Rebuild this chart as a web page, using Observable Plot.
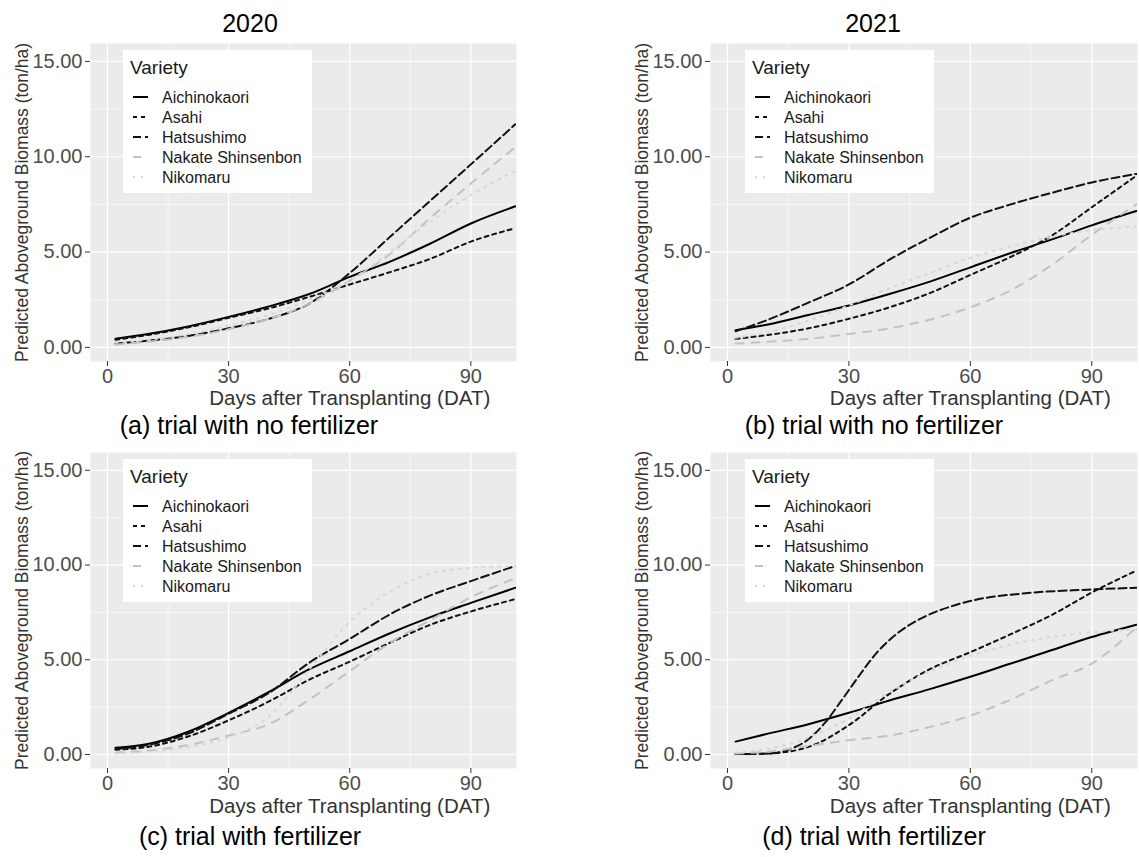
<!DOCTYPE html>
<html>
<head>
<meta charset="utf-8">
<script src="https://cdn.jsdelivr.net/npm/d3@7"></script>
<script src="https://cdn.jsdelivr.net/npm/@observablehq/plot@0.6"></script>
<style>
  html, body { margin: 0; padding: 0; background: #fff; overflow: hidden; }
  #root { position: relative; width: 1139px; height: 857px; font-family: "Liberation Sans", Arial, sans-serif; }
  #root > svg { position: absolute; }
</style>
</head>
<body>
<div id="root"></div>
<script>
// ---------------- DATA ----------------
const varieties = ["Aichinokaori", "Asahi", "Hatsushimo", "Nakate Shinsenbon", "Nikomaru"];
const days = [2, 10, 20, 30, 40, 50, 60, 70, 80, 90, 101];
const xTicks = [0, 30, 60, 90];
const yTicks = [0, 5, 10, 15];

// (a) 2020, no fertilizer
const a_Aichinokaori = [0.45, 0.7, 1.1, 1.6, 2.15, 2.8, 3.7, 4.5, 5.45, 6.5, 7.4];
const a_Asahi        = [0.4, 0.65, 1.05, 1.55, 2.05, 2.65, 3.3, 3.95, 4.65, 5.55, 6.25];
const a_Hatsushimo   = [0.2, 0.35, 0.6, 1.0, 1.5, 2.3, 3.9, 5.8, 7.7, 9.6, 11.7];
const a_Nakate       = [0.15, 0.3, 0.55, 0.95, 1.5, 2.3, 3.5, 4.9, 6.8, 8.6, 10.5];
const a_Nikomaru     = [0.25, 0.4, 0.7, 1.15, 1.7, 2.5, 3.5, 5.0, 6.6, 8.0, 9.25];

// (b) 2021, no fertilizer
const b_Aichinokaori = [0.9, 1.2, 1.7, 2.2, 2.8, 3.45, 4.2, 4.95, 5.65, 6.4, 7.15];
const b_Asahi        = [0.45, 0.65, 1.0, 1.5, 2.1, 2.85, 3.8, 4.75, 5.85, 7.35, 9.0];
const b_Hatsushimo   = [0.85, 1.45, 2.35, 3.3, 4.6, 5.75, 6.8, 7.5, 8.1, 8.65, 9.1];
const b_Nakate       = [0.2, 0.3, 0.45, 0.7, 1.0, 1.45, 2.1, 3.0, 4.3, 5.9, 7.5];
const b_Nikomaru     = [0.5, 0.8, 1.4, 2.2, 3.1, 3.9, 4.7, 5.3, 5.8, 6.15, 6.35];

// (c) 2020, with fertilizer
const c_Aichinokaori = [0.35, 0.55, 1.2, 2.2, 3.3, 4.5, 5.45, 6.4, 7.25, 8.0, 8.8];
const c_Asahi        = [0.25, 0.4, 0.95, 1.8, 2.8, 3.95, 4.9, 5.9, 6.85, 7.55, 8.2];
const c_Hatsushimo   = [0.3, 0.5, 1.1, 2.15, 3.25, 4.85, 6.1, 7.4, 8.4, 9.15, 9.95];
const c_Nakate       = [0.1, 0.2, 0.5, 1.0, 1.6, 2.9, 4.4, 5.9, 7.1, 8.3, 9.3];
const c_Nikomaru     = [0.05, 0.15, 0.4, 0.9, 2.0, 4.5, 7.0, 8.6, 9.55, 9.85, 9.95];

// (d) 2021, with fertilizer
const d_Aichinokaori = [0.68, 1.1, 1.6, 2.2, 2.85, 3.45, 4.1, 4.8, 5.5, 6.2, 6.85];
const d_Asahi        = [0.02, 0.05, 0.4, 1.55, 3.2, 4.5, 5.4, 6.35, 7.35, 8.55, 9.7];
const dH_days        = [2, 10, 15, 20, 24, 28, 32, 37, 42, 48, 55, 61, 73, 89, 101];
const d_Hatsushimo   = [0.02, 0.05, 0.25, 0.8, 1.65, 2.8, 4.0, 5.4, 6.4, 7.2, 7.8, 8.15, 8.5, 8.7, 8.8];
const d_Nakate       = [0.05, 0.15, 0.45, 0.75, 1.0, 1.45, 2.05, 2.9, 3.9, 4.8, 6.7];
const d_Nikomaru     = [0.1, 0.3, 0.9, 1.9, 3.3, 4.4, 5.2, 5.8, 6.2, 6.45, 6.6];

const yearTitles = ["2020", "2021"];
const captions = ["(a) trial with no fertilizer", "(b) trial with no fertilizer", "(c) trial with fertilizer", "(d) trial with fertilizer"];
const xTitle = "Days after Transplanting (DAT)";
const yTitle = "Predicted Aboveground Biomass (ton/ha)";
const legendTitle = "Variety";

// ---------------- STYLES ----------------
const lineStyle = {
  "Aichinokaori":      {stroke: "#000000", dash: null},
  "Asahi":             {stroke: "#111111", dash: "4,4"},
  "Hatsushimo":        {stroke: "#111111", dash: "8,4"},
  "Nakate Shinsenbon": {stroke: "#c2c2c2", dash: "8,8"},
  "Nikomaru":          {stroke: "#d8d8d8", dash: "2,6"}
};

function rowsFor(pairs) {
  const out = [];
  for (const [variety, xs, ys] of pairs) {
    xs.forEach((d, i) => out.push({variety, day: d, value: ys[i]}));
  }
  return out;
}

const panels = [
  {svgLeft: 0,   svgTop: 0,   mL: 90, mT: 43, fw: 426, fh: 318, mR: 30, legendDx: 33, xtDy: 37,
   rows: rowsFor([["Aichinokaori", days, a_Aichinokaori], ["Asahi", days, a_Asahi], ["Hatsushimo", days, a_Hatsushimo], ["Nakate Shinsenbon", days, a_Nakate], ["Nikomaru", days, a_Nikomaru]])},
  {svgLeft: 620, svgTop: 0,   mL: 90, mT: 43, fw: 427, fh: 318, mR: 2, legendDx: 35, xtDy: 37,
   rows: rowsFor([["Aichinokaori", days, b_Aichinokaori], ["Asahi", days, b_Asahi], ["Hatsushimo", days, b_Hatsushimo], ["Nakate Shinsenbon", days, b_Nakate], ["Nikomaru", days, b_Nikomaru]])},
  {svgLeft: 0,   svgTop: 409, mL: 90, mT: 43, fw: 426, fh: 316, mR: 30, legendDx: 33, xtDy: 38,
   rows: rowsFor([["Aichinokaori", days, c_Aichinokaori], ["Asahi", days, c_Asahi], ["Hatsushimo", days, c_Hatsushimo], ["Nakate Shinsenbon", days, c_Nakate], ["Nikomaru", days, c_Nikomaru]])},
  {svgLeft: 620, svgTop: 409, mL: 90, mT: 43, fw: 427, fh: 316, mR: 2, legendDx: 35, xtDy: 38,
   rows: rowsFor([["Aichinokaori", days, d_Aichinokaori], ["Asahi", days, d_Asahi], ["Hatsushimo", dH_days, d_Hatsushimo], ["Nakate Shinsenbon", days, d_Nakate], ["Nikomaru", days, d_Nikomaru]])}
];

const root = document.getElementById("root");
const FONT = "'Liberation Sans', Arial, sans-serif";

for (const p of panels) {
  const marks = [
    Plot.frame({fill: "#ebebeb", stroke: "none"}),
    Plot.gridX([15, 45, 75], {stroke: "#ffffff", strokeOpacity: 1, strokeWidth: 0.6}),
    Plot.gridY([2.5, 7.5, 12.5], {stroke: "#ffffff", strokeOpacity: 1, strokeWidth: 0.6}),
    Plot.gridX(xTicks, {stroke: "#ffffff", strokeOpacity: 1, strokeWidth: 1.2}),
    Plot.gridY(yTicks, {stroke: "#ffffff", strokeOpacity: 1, strokeWidth: 1.2}),
    Plot.axisX(xTicks, {tickSize: 5, tickPadding: 2, fontSize: 20, stroke: "#333333", fill: "#4d4d4d", label: null}),
    Plot.axisY(yTicks, {tickSize: 5, tickPadding: 3, fontSize: 20, stroke: "#333333", fill: "#4d4d4d", label: null, tickFormat: d3.format(".2f")}),
    ...varieties.map(v => Plot.line(p.rows.filter(r => r.variety === v), {
      x: "day", y: "value", stroke: lineStyle[v].stroke,
      strokeDasharray: lineStyle[v].dash || undefined,
      strokeWidth: 2, curve: "monotone-x", clip: true
    })),
    Plot.text([xTitle], {x: () => 60, frameAnchor: "bottom", text: d => d, dy: p.xtDy,
      lineAnchor: "middle", textAnchor: "middle", fontSize: 20.5, fill: "#333333"}),
    Plot.text([yTitle], {frameAnchor: "left", text: d => d, rotate: -90, dx: -68,
      lineAnchor: "middle", textAnchor: "middle", fontSize: 17.5, fill: "#333333"})
  ];
  const chart = Plot.plot({
    width: p.mL + p.fw + p.mR,
    height: p.mT + p.fh + 60,
    marginLeft: p.mL, marginTop: p.mT, marginRight: p.mR, marginBottom: 60,
    x: {domain: [-4.2, 101.3]},
    y: {domain: [-0.74, 15.94]},
    style: {fontFamily: FONT, fontSize: "20px", background: "transparent", overflow: "visible"},
    marks
  });
  chart.style.position = "absolute";
  chart.style.left = p.svgLeft + "px";
  chart.style.top = p.svgTop + "px";
  root.appendChild(chart);
}

// ---------------- OVERLAY: titles, captions, legends ----------------
const ov = d3.select(root).append("svg")
  .attr("width", 1139).attr("height", 857)
  .style("left", "0px").style("top", "0px")
  .style("font-family", FONT)
  .style("pointer-events", "none");

const titlePos = [[250, 32], [873, 32]];
yearTitles.forEach((t, i) => ov.append("text").attr("x", titlePos[i][0]).attr("y", titlePos[i][1])
  .attr("text-anchor", "middle").attr("font-size", 25).attr("fill", "#000").text(t));

const capPos = [[249, 434], [874, 434], [250, 845], [874, 845]];
captions.forEach((t, i) => ov.append("text").attr("x", capPos[i][0]).attr("y", capPos[i][1])
  .attr("text-anchor", "middle").attr("font-size", 25).attr("fill", "#000").text(t));

for (const p of panels) {
  const L = p.svgLeft + p.mL + p.legendDx;
  const T = p.svgTop + p.mT + 7;
  const g = ov.append("g").attr("transform", `translate(${L},${T})`);
  g.append("rect").attr("width", 189).attr("height", 143).attr("fill", "#fff");
  g.append("text").attr("x", 7).attr("y", 24).attr("font-size", 19).attr("fill", "#1a1a1a").text(legendTitle);
  varieties.forEach((v, i) => {
    const cy = 47 + 20 * i;
    const ln = g.append("line").attr("x1", 10).attr("x2", 25).attr("y1", cy).attr("y2", cy)
      .attr("stroke", lineStyle[v].stroke).attr("stroke-width", 2);
    if (lineStyle[v].dash) ln.attr("stroke-dasharray", lineStyle[v].dash);
    g.append("text").attr("x", 39).attr("y", cy + 5.5).attr("font-size", 16).attr("fill", "#1a1a1a").text(v);
  });
}
</script>
</body>
</html>
